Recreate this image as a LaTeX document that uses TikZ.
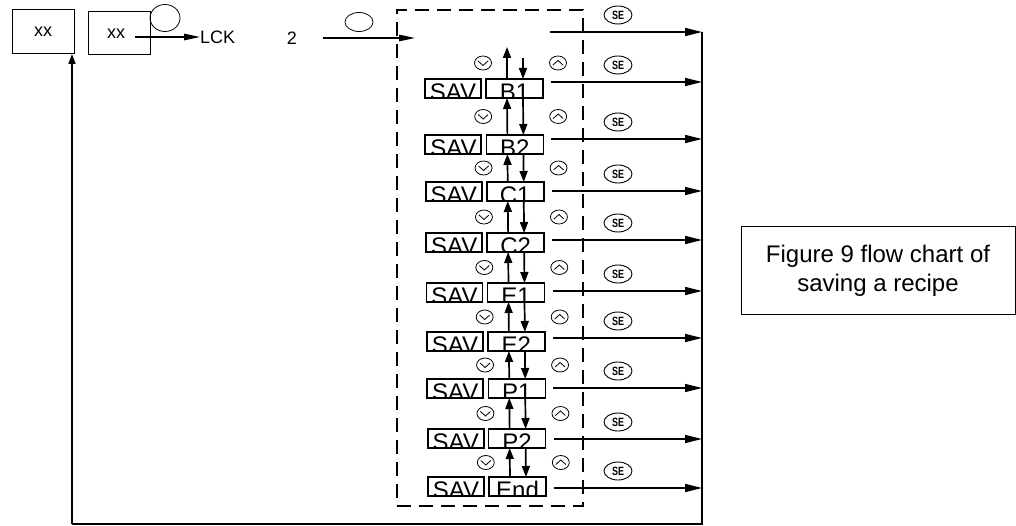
\documentclass[tikz,border=0pt]{standalone}
\usepackage{fontspec}
\usepackage{graphicx}
\setmainfont{Liberation Sans}
\usetikzlibrary{arrows.meta,shapes.geometric,calc}
\tikzset{
  boxa/.style={draw, line width=1pt, minimum width=62pt, minimum height=44pt, inner sep=0pt, outer sep=0pt, font=\fontsize{18}{18}\selectfont},
  dbox/.style={draw, line width=2pt, dash pattern=on 14pt off 8pt, minimum width=186pt, minimum height=496pt, inner sep=0pt},
  clipbox/.style={draw, line width=1.8pt, minimum width=56pt, minimum height=19pt, inner sep=0pt, outer sep=0pt,
    path picture={\node[anchor=base, inner sep=0pt, font=\fontsize{24}{24}\selectfont] at ([yshift=-2.5pt]path picture bounding box.south) {#1};}},
  seell/.style={draw, ellipse, line width=0.9pt, minimum width=28pt, minimum height=18pt, inner sep=0pt, font=\fontsize{12}{12}\selectfont\bfseries},
  oval/.style={draw, ellipse, line width=0.8pt, inner sep=0pt},
  chev/.style={draw, ellipse, line width=0.8pt, minimum width=17pt, minimum height=14pt, inner sep=0pt},
  chevdn/.style={chev, path picture={\draw[line width=0.8pt] ([shift={(-5pt,2pt)}]path picture bounding box.center) -- ++(5pt,-4.5pt) -- ++(5pt,4.5pt);}},
  chevup/.style={chev, path picture={\draw[line width=0.8pt] ([shift={(-5pt,-2pt)}]path picture bounding box.center) -- ++(5pt,4.5pt) -- ++(5pt,-4.5pt);}},
  harrow/.style={line width=1.6pt, -{Triangle[length=17pt,width=8pt]}},
  larrow/.style={line width=1.4pt, -{Triangle[length=16pt,width=6.5pt]}},
  varrow/.style={line width=1.7pt, -{Triangle[length=11pt,width=8pt]}},
  plain/.style={font=\fontsize{18}{18}\selectfont, inner sep=0pt},
  captionbox/.style={draw, line width=1pt, minimum width=274pt, minimum height=87pt, align=center, font=\fontsize{24}{29}\selectfont},
}
\newcommand{\setext}{\scalebox{0.75}[1]{SE}}
\begin{document}
\begin{tikzpicture}[x=1pt,y=-1pt]
\useasboundingbox (0,0) rectangle (1016,526);
% top left boxes
\node[boxa] (b1) at (43,32) {xx};
\node[boxa, minimum height=43pt] (b2) at (119,33.5) {\hspace*{-6pt}xx};
\node[plain, anchor=west] (lck) at (200,37) {LCK};
\coordinate (lcks) at (135,37);
\draw[larrow] (lcks) -- (lck.west);
\node[oval, minimum width=30pt, minimum height=27pt] (e1) at (165,18) {};
\node[plain] (two) at (292,38) {2};
\coordinate (twos) at (323,38);
\coordinate (twoe) at (415,38);
\draw[larrow] (twos) -- (twoe);
\node[oval, minimum width=28pt, minimum height=19pt] (e2) at (359,22) {};
% dashed frame
\node[dbox] (frame) at (490,258) {};
% right collector line
\coordinate (rtop) at (702,32);
\coordinate (rbot) at (702,524);
\coordinate (lbot) at (72,524);
\draw[line width=2pt] (rtop) -- (rbot) -- (lbot);
\draw[line width=1.5pt, -{Triangle[length=10pt,width=7pt]}] (lbot) -- (lbot |- b1.south);
% top arrow
\coordinate (h0) at (550,32);
\draw[harrow] (h0) -- (rtop);
\node[seell] (se0) at (618,15) {\setext};
% rows
\foreach \i/\lab/\tp/\ay in {1/B1/79/82, 2/B2/135/139, 3/C1/182/191, 4/C2/233/240, 5/E1/283/291, 6/E2/332/338, 7/P1/379/388, 8/P2/429/439, 9/End/477/488}{
  \pgfmathsetmacro{\dx}{3*(\i-1)/8}
  \pgfmathsetmacro{\cy}{\tp+9.5}
  \node[clipbox=SAV] (s\i) at (453+\dx,\cy) {};
  \node[clipbox=\lab, line width=1.5pt, minimum width=57pt] (n\i) at (514.5+\dx,\cy) {};
  \coordinate (h\i) at (551+\dx,\ay);
  \draw[harrow] (h\i) -- (h\i -| rtop);
  \node[seell] (se\i) at (618,\ay-17) {\setext};
}
% top section arrows
\coordinate (ut) at (507,47);
\coordinate (dt) at (523,58);
\draw[varrow] ([xshift=-7.5pt]n1.north) -- (ut);
\draw[varrow] (dt) -- ([xshift=8.5pt]n1.north);
\node[chevdn] (cd1) at (483,63) {};
\node[chevup] (cu1) at (558,63) {};
% between rows
\foreach \i [evaluate=\i as \j using int(\i+1)] in {1,...,8}{
  \draw[varrow] ([xshift=-7.5pt]n\j.north) -- ([xshift=-7.5pt]n\i.south);
  \draw[varrow] ([xshift=8.5pt]n\i.south) -- ([xshift=8.5pt]n\j.north);
  \node[chevdn] (cd\j) at ($(n\i.south)!0.5!(n\j.north)+(-31.5,0)$) {};
  \node[chevup] (cu\j) at ($(n\i.south)!0.5!(n\j.north)+(43.5,0)$) {};
}
% caption
\node[captionbox] (cap) at (878,270.5) {Figure 9 flow chart of\\saving a recipe};
\end{tikzpicture}
\end{document}
